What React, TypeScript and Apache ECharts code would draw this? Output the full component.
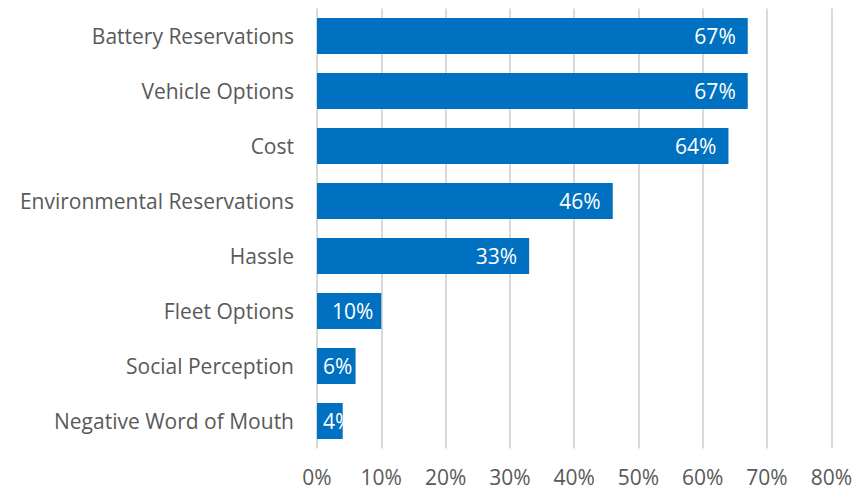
import React, { useEffect, useRef } from "react";
import * as echarts from "echarts";

const categories = [
  "Battery Reservations",
  "Vehicle Options",
  "Cost",
  "Environmental Reservations",
  "Hassle",
  "Fleet Options",
  "Social Perception",
  "Negative Word of Mouth",
];
const values = [67, 67, 64, 46, 33, 10, 6, 4];
const xTicks = { min: 0, max: 80, interval: 10 };

const FONT = "'Open Sans'";

function labelFor(v: number) {
  if (v < 8) return { position: "insideLeft", distance: 6 };
  if (v < 15) return { position: "insideRight", distance: 8 };
  return { position: "insideRight", distance: 12 };
}

export default function App() {
  const ref = useRef<HTMLDivElement>(null);
  useEffect(() => {
    if (!ref.current) return;
    const chart = echarts.init(ref.current, null, { renderer: "svg" });
    const cats = [...categories].reverse();
    const vals = [...values].reverse();
    chart.setOption({
      animation: false,
      grid: { left: 317, right: 19, top: 8.5, bottom: 40.5, containLabel: false },
      xAxis: {
        type: "value",
        min: xTicks.min,
        max: xTicks.max,
        interval: xTicks.interval,
        axisLine: { show: false },
        axisTick: { show: false },
        axisLabel: {
          formatter: "{value}%",
          color: "#595959",
          fontSize: 21,
          fontFamily: FONT,
          margin: 18,
        },
        splitLine: { show: true, lineStyle: { color: "#d9d9d9", width: 2 } },
      },
      yAxis: {
        type: "category",
        data: cats,
        axisLine: { show: false },
        axisTick: { show: false },
        axisLabel: {
          color: "#595959",
          fontSize: 21,
          fontFamily: FONT,
          margin: 23,
        },
      },
      series: [
        {
          type: "bar",
          data: vals.map((v) => ({ value: v, label: labelFor(v) })),
          barWidth: 36,
          itemStyle: { color: "#0070C0" },
          label: {
            show: true,
            formatter: "{c}%",
            color: "#ffffff",
            fontSize: 21,
            fontFamily: FONT,
          },
        },
      ],
    });
    return () => chart.dispose();
  }, []);
  return (
    <div
      ref={ref}
      style={{ position: "absolute", left: 0, top: 0, width: 855, height: 489 }}
    />
  );
}
